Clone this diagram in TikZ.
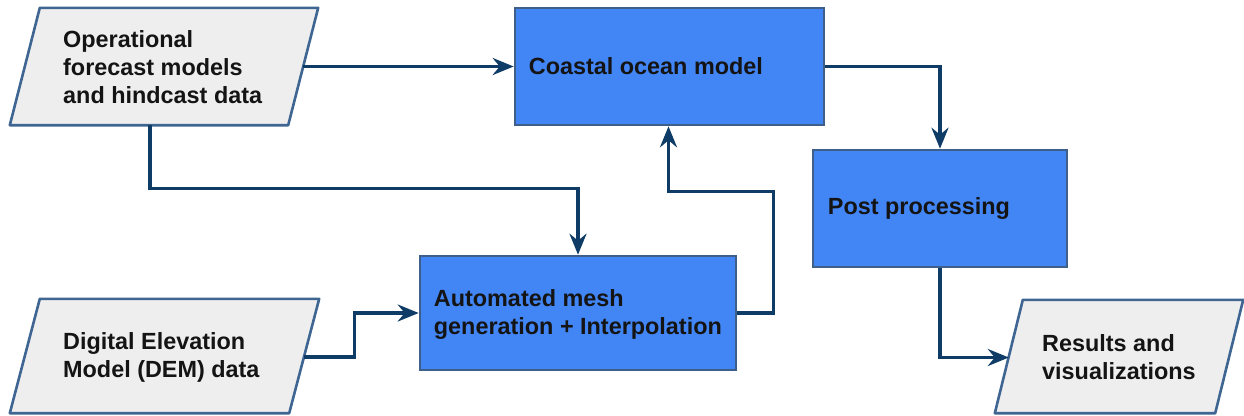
\documentclass[tikz,border=0pt]{standalone}
\usepackage{fontspec}
\setmainfont{Liberation Sans}
\usetikzlibrary{calc,arrows.meta}
\definecolor{procfill}{HTML}{4285F4}
\definecolor{procline}{HTML}{3E5F88}
\definecolor{iofill}{HTML}{EEEEEE}
\definecolor{ioline}{HTML}{3F6593}
\definecolor{flow}{HTML}{0E3C66}
\definecolor{ink}{HTML}{141414}
\tikzset{
  procbox/.style={draw=procline, fill=procfill, line width=2.6pt, rectangle, inner sep=0pt},
  iobox/.style={rectangle, inner sep=0pt},
  iodraw/.style={draw=ioline, fill=iofill, line width=2.6pt, line join=round},
  lbl/.style={anchor=west, inner sep=0pt, align=left, text=ink,
    font=\fontsize{23.4}{28}\selectfont\bfseries},
  arr/.style={draw=flow, line width=3.4pt,
    -{Stealth[length=21pt, width=17pt, inset=7pt]}}
}
\newcommand{\iopath}[2]{% node name, slant
  \path[iodraw] (#1.south west) -- ($(#1.north west)+(#2,0)$) -- (#1.north east)
    -- ($(#1.south east)+(-#2,0)$) -- cycle;}
\begin{document}
\begin{tikzpicture}[x=1pt, y=-1pt]
\useasboundingbox (0,0) rectangle (1244,415);

% input/output parallelograms
\node[iobox, minimum width=308pt, minimum height=117pt] (op) at (164,66.5) {};
\node[iobox, minimum width=309pt, minimum height=114pt] (dem) at (164.5,356) {};
\node[iobox, minimum width=248pt, minimum height=113pt] (res) at (1119,356.5) {};
\iopath{op}{30}
\iopath{dem}{30}
\iopath{res}{28}

% process boxes
\node[procbox, minimum width=309pt, minimum height=117pt] (coast) at (669.5,66.5) {};
\node[procbox, minimum width=254pt, minimum height=117pt] (post) at (940,208.5) {};
\node[procbox, minimum width=316pt, minimum height=114pt] (mesh) at (578,313) {};

% labels
\node[lbl] (optxt) at (63,67) {Operational\\forecast models\\and hindcast data};
\node[lbl] (demtxt) at (63,357.5) {Digital Elevation\\Model (DEM) data};
\node[lbl] (restxt) at (1042,357.5) {Results and\\visualizations};
\node[lbl] (coasttxt) at ($(coast.west)+(15,0)$) {Coastal ocean model};
\node[lbl] (posttxt) at ($(post.west)+(16,0)$) {Post processing};
\node[lbl] (meshtxt) at ($(mesh.west)+(15,1)$) {Automated mesh\\generation + Interpolation};

% flow connectors
\draw[arr] ($(op.east)+(-15,0)$) -- (coast.west);
\draw[arr] ($(op.south)+(-14,0)$) |- ($(mesh.north)+(0,-66)$) -- (mesh.north);
\draw[arr] (mesh.east) -- ++(36,0) |- ($(coast.south)+(-1,65)$) -- ($(coast.south)+(-1,0)$);
\draw[arr] ($(dem.east)+(-15,1)$) -- ++(50,0) |- (mesh.west);
\draw[arr] (coast.east) -| (post.north);
\draw[arr] (post.south) |- ($(res.west)+(14,1)$);
\end{tikzpicture}
\end{document}
